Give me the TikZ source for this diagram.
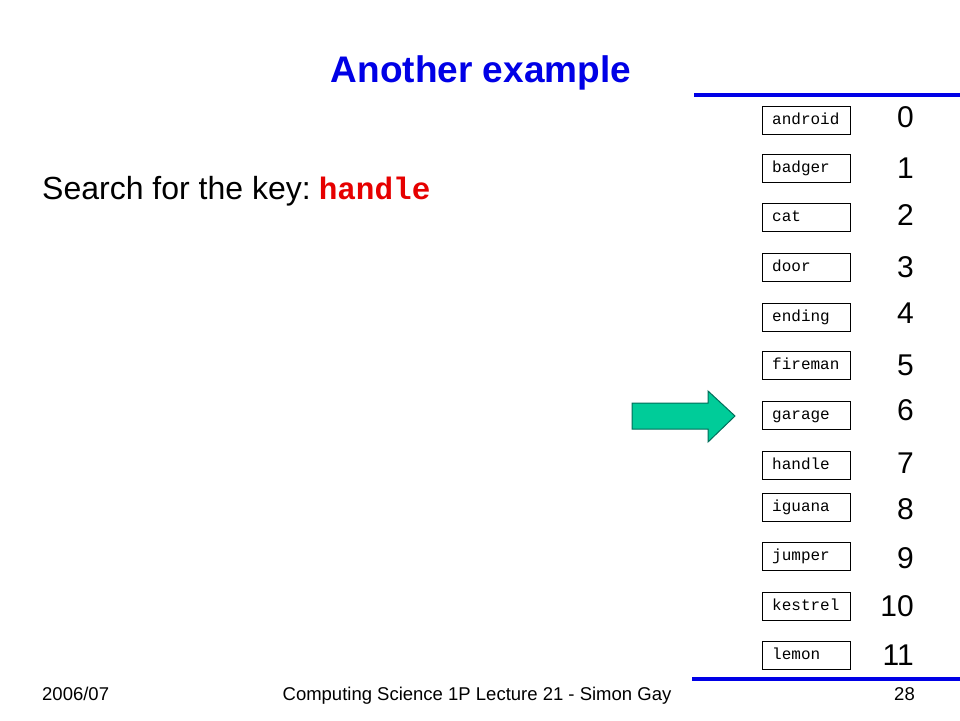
\documentclass[tikz,border=0pt]{standalone}
\usepackage{fontspec}
\setmainfont{Liberation Sans}
\newfontfamily\monof{Liberation Mono}
\definecolor{titleblue}{RGB}{0,0,230}
\definecolor{keyred}{RGB}{230,0,0}
\definecolor{arrowfill}{RGB}{0,204,153}
\definecolor{arrowline}{RGB}{0,110,90}
\tikzset{
  slot/.style={draw=black, line width=1pt, minimum width=88pt, minimum height=28pt, inner sep=0pt},
  slottext/.style={anchor=base west, inner sep=0pt, font=\monof\fontsize{16}{16}\selectfont},
  idx/.style={anchor=base east, inner sep=0pt, font=\fontsize{30}{30}\selectfont},
  bar/.style={draw=titleblue, line width=4.5pt},
  foot/.style={inner sep=0pt, font=\fontsize{18.5}{18.5}\selectfont}
}
\begin{document}
\begin{tikzpicture}[x=1pt,y=-1pt]
\useasboundingbox[fill=white] (0,0) rectangle (960,720);
% title
\node[anchor=base, inner sep=0pt, text=titleblue, font=\bfseries\fontsize{37}{37}\selectfont] (title) at (481,82) {Another example};
% blue bars
\coordinate (t1) at (694,95); \coordinate (t2) at (960,95);
\coordinate (b1) at (692,679); \coordinate (b2) at (960,679);
\draw[bar] (t1) -- (t2);
\draw[bar] (b1) -- (b2);
% search text
\node[anchor=base west, inner sep=0pt, font=\fontsize{32}{32}\selectfont] (search) at (42,199) {Search for the key:\hspace{8pt}{\monof\bfseries\fontsize{31}{31}\selectfont\color{keyred}handle}};
% slots
\foreach \name/\w/\cy/\by [count=\i from 0] in {
  android/android/120/127, badger/badger/168/178, cat/cat/217/225, door/door/267/277,
  ending/ending/317/323, fireman/fireman/365/375, garage/garage/415/420, handle/handle/465/473,
  iguana/iguana/507/519, jumper/jumper/556/568, kestrel/kestrel/606/616, lemon/lemon/655/665} {
  \node[slot] (box\i) at (806,\cy) {};
  \node[slottext] (txt\i) at (772,\cy+4) {\w};
  \node[idx] (idx\i) at (914,\by) {\i};
}
% arrow
\draw[fill=arrowfill, draw=arrowline, line width=1pt]
  (632,403) -- (708,403) -- (708,391) -- (735,416) -- (708,442) -- (708,429) -- (632,429) -- cycle;
% footer
\node[foot, anchor=base west] (date) at (42,700) {2006/07};
\node[foot, anchor=base] (course) at (477,700) {Computing Science 1P Lecture 21 - Simon Gay};
\node[foot, anchor=base east] (page) at (915,700) {28};
\end{tikzpicture}
\end{document}
